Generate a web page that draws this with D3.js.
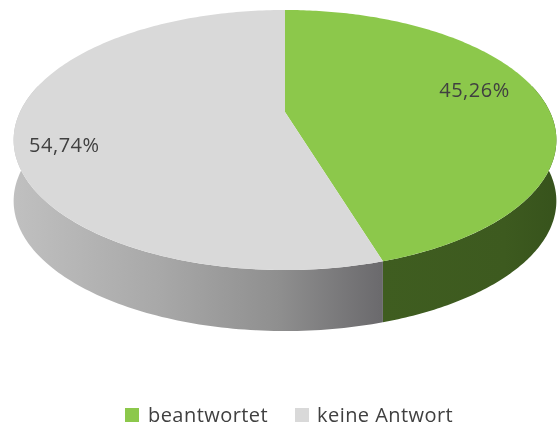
<!DOCTYPE html>
<html><head><meta charset="utf-8">
<script src="https://cdn.jsdelivr.net/npm/d3@7/dist/d3.min.js"></script>
<style>html,body{margin:0;background:#fff}svg{display:block}text{font-family:"Open Sans",sans-serif;fill:#404040}</style>
</head><body><svg id="c" width="557" height="428"></svg>
<script>
const categories=["beantwortet","keine Antwort"];
const values=[45.26,54.74];
const labels=["45,26%","54,74%"];
const topColors=["#8cc84b","#d9d9d9"];

const svg=d3.select("#c");
const cx=285,cy=112,a=265,b=124,p=0.2154,depth=61;
function pt(th,r,dy){ // th clockwise from the back of the disk, perspective toward the viewer
  const u=r*Math.sin(th),f=-r*Math.cos(th),den=1-p*f;
  return [cx+a*u/den,cy+b*f/den+dy];
}
const arcs=d3.pie().sort(null).value(d=>d)(values);
const line=d3.line();
const samp=(s,e,n=120)=>d3.range(n+1).map(i=>s+(e-s)*i/n);

const defs=svg.append("defs");
const gradStops=[
 [[0,"#3f5d20"],[0.7,"#3d5a1f"],[1,"#37531c"]],
 [[0,"#c0c0c0"],[0.4,"#a8a8a8"],[0.72,"#8f8f8f"],[1,"#6b6a6d"]]
];
const gradRange=[[381,557],[13,381]];
gradStops.forEach((st,i)=>{
  const g=defs.append("linearGradient").attr("id","side"+i).attr("gradientUnits","userSpaceOnUse")
    .attr("x1",gradRange[i][0]).attr("x2",gradRange[i][1]).attr("y1",0).attr("y2",0);
  st.forEach(s=>g.append("stop").attr("offset",s[0]).attr("stop-color",s[1]));
});
const soft=defs.append("filter").attr("id","soft").attr("x","-5%").attr("y","-20%").attr("width","110%").attr("height","140%");
soft.append("feGaussianBlur").attr("stdDeviation",0.5);

// side walls
const visStart=Math.PI/2-0.22, visEnd=Math.PI*1.5+0.22;
arcs.forEach((d,i)=>{
  const A=samp(Math.max(d.startAngle,visStart),Math.min(d.endAngle,visEnd));
  const pts=A.map(t=>pt(t,1,0)).concat(A.slice().reverse().map(t=>pt(t,1,depth)));
  svg.append("path").attr("d",line(pts)+"Z").attr("fill",`url(#side${i})`);
});
// top faces
arcs.forEach((d,i)=>{
  const pts=[pt(0,0,0)].concat(samp(d.startAngle,d.endAngle,200).map(t=>pt(t,1,0)));
  svg.append("path").attr("d",line(pts)+"Z").attr("fill",topColors[i]);
});
// data labels, placed along each slice's mid angle
const labelR=[0.74,0.82],labelDy=[-2,25];
svg.selectAll("text.lbl").data(arcs).join("text").attr("class","lbl")
  .each(function(d,i){
    const q=pt((d.startAngle+d.endAngle)/2,labelR[i],labelDy[i]);
    d3.select(this).attr("x",q[0]).attr("y",q[1]);
  })
  .attr("text-anchor","middle").attr("font-size",20).attr("letter-spacing",0.5).attr("filter","url(#soft)").text((d,i)=>labels[i]);
// legend
const swatchX=[125,295],legTextX=[148,317];
const lg=svg.selectAll("g.leg").data(categories).join("g").attr("class","leg");
lg.append("rect").attr("x",(d,i)=>swatchX[i]).attr("y",408).attr("width",14).attr("height",14)
  .attr("fill",(d,i)=>topColors[i]).attr("filter","url(#soft)");
lg.append("text").attr("x",(d,i)=>legTextX[i]).attr("y",422).attr("font-size",20).attr("letter-spacing",0.45)
  .attr("filter","url(#soft)").text(d=>d);
</script></body></html>
